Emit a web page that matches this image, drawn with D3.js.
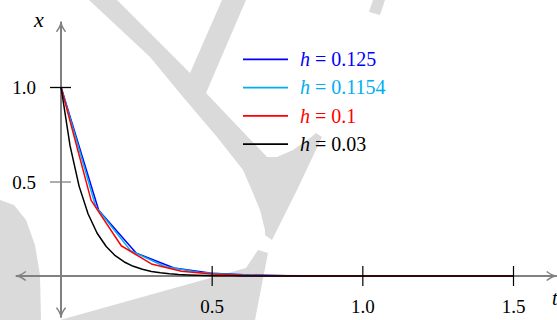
<!DOCTYPE html>
<html>
<head>
<meta charset="utf-8">
<script src="https://cdn.jsdelivr.net/npm/d3@7"></script>
<style>
  html, body { margin: 0; padding: 0; background: #fff; }
  svg { display: block; }
</style>
</head>
<body>
<script>
// Step sizes of the four numerical solutions of x' = -15x, x(0) = 1
const stepSizes = [0.125, 0.1154, 0.1, 0.03];
const seriesColors = ["#0000ff", "#00aeef", "#ff0000", "#000000"];

// Computed x values at t = k*h for each step size
const valuesH0125 = [1, 0.3478, 0.1210, 0.0421, 0.0146, 0.0051, 0.0018, 0.0006, 0.0002, 0.0001, 0, 0, 0];
const valuesH01154 = [1, 0.3662, 0.1341, 0.0491, 0.0180, 0.0066, 0.0024, 0.0009, 0.0003, 0.0001, 0, 0, 0, 0];
const valuesH01 = [1, 0.4, 0.16, 0.064, 0.0256, 0.0102, 0.0041, 0.0016, 0.0007, 0.0003, 0.0001, 0, 0, 0, 0, 0];
const valuesH003 = [1, 0.6897, 0.4756, 0.3280, 0.2262, 0.1560, 0.1076, 0.0742, 0.0512, 0.0353,
  0.0243, 0.0168, 0.0116, 0.0080, 0.0055, 0.0038, 0.0026, 0.0018, 0.0012, 0.0009,
  0.0006, 0.0004, 0.0003, 0.0002, 0.0001, 0, 0, 0, 0, 0,
  0, 0, 0, 0, 0, 0, 0, 0, 0, 0,
  0, 0, 0, 0, 0, 0, 0, 0, 0, 0, 0];

const xTickValues = [0.5, 1.0, 1.5];
const yTickValues = [0.5, 1.0];
const xAxisExtent = [-0.15, 1.645];
const yAxisExtent = [-0.22, 1.345];

const W = 557, H = 320;
const serif = '"Liberation Serif"';
const axisGrey = "#808080";

const svg = d3.select("body").append("svg")
  .attr("width", W).attr("height", H)
  .attr("viewBox", `0 0 ${W} ${H}`);

// Light grey decorative backdrop shapes
const backdrop = [
  [[89,0],[117,0],[190,73],[222,0],[246,0],[206,93],[267,157],[277,157],[293,150],[310,138],[316,133],[322,137],
   [297,190],[272,240],[265,235],[265,230],[260,210],[253,193],[243,170],[217,137],[183,97],[150,57]],
  [[258,250],[268,253],[255,320],[60,320],[246,268]],
  [[0,200],[14,205],[26,220],[35,245],[40,275],[41,320],[0,320]],
  [[373,0],[385,0],[380,15],[369,12]]
];
svg.append("g").selectAll("polygon").data(backdrop).join("polygon")
  .attr("points", d => d.map(p => p.join(",")).join(" "))
  .attr("fill", "#dadada");

const x = d3.scaleLinear().domain([0, 1.5]).range([61, 513]);
const y = d3.scaleLinear().domain([0, 1]).range([276, 87]);

// Axis lines with arrow heads at both ends
function arrowHead(tipX, tipY, dirX, dirY, len, half) {
  const bx = tipX - dirX * len, by = tipY - dirY * len;
  const px = -dirY * half, py = dirX * half;
  return `M${bx + px},${by + py}Q${tipX - dirX * len * 0.4},${tipY - dirY * len * 0.4} ${tipX},${tipY}` +
         `Q${tipX - dirX * len * 0.4},${tipY - dirY * len * 0.4} ${bx - px},${by - py}`;
}
const axes = svg.append("g").attr("stroke", axisGrey).attr("fill", "none");
const x0 = x(xAxisExtent[0]), x1 = x(xAxisExtent[1]);
const yTop = y(yAxisExtent[1]), yBot = y(yAxisExtent[0]);
axes.append("line").attr("x1", x0).attr("x2", x1).attr("y1", y(0)).attr("y2", y(0)).attr("stroke-width", 2);
axes.append("line").attr("x1", x(0)).attr("x2", x(0)).attr("y1", yTop).attr("y2", yBot).attr("stroke-width", 2);
axes.append("path").attr("d", arrowHead(x1, y(0), 1, 0, 10, 4.5)).attr("stroke-width", 1.5);
axes.append("path").attr("d", arrowHead(x0, y(0), -1, 0, 10, 4.5)).attr("stroke-width", 1.5);
axes.append("path").attr("d", arrowHead(x(0), yTop, 0, -1, 10, 4.5)).attr("stroke-width", 1.5);
axes.append("path").attr("d", arrowHead(x(0), yBot, 0, 1, 10, 4.5)).attr("stroke-width", 1.5);

// Solution curves
const series = stepSizes.map((h, i) => ({
  h,
  color: seriesColors[i],
  values: [valuesH0125, valuesH01154, valuesH01, valuesH003][i]
}));
const line = d3.line().x(d => x(d.t)).y(d => y(d.v));
svg.append("g").selectAll("path").data(series).join("path")
  .attr("d", s => line(s.values.map((v, k) => ({ t: k * s.h, v }))))
  .attr("fill", "none")
  .attr("stroke", s => s.color)
  .attr("stroke-width", 1.5)
  .attr("stroke-linejoin", "round");

// Ticks crossing the axes
const fmt = d3.format(".1f");
const gx = svg.append("g").attr("transform", `translate(0,${y(0)})`)
  .call(d3.axisBottom(x).tickValues(xTickValues).tickSize(10).tickFormat(fmt));
gx.select(".domain").remove();
gx.selectAll(".tick line").attr("y1", -10).attr("y2", 10).attr("stroke", "#000").attr("stroke-width", 1.2);
gx.selectAll(".tick text").attr("y", 37).attr("dy", null)
  .style("font-family", serif).style("font-size", "19px").attr("fill", "#000");

const gy = svg.append("g").attr("transform", `translate(${x(0)},0)`)
  .call(d3.axisLeft(y).tickValues(yTickValues).tickSize(10).tickFormat(fmt));
gy.select(".domain").remove();
gy.selectAll(".tick line").attr("x1", 10).attr("x2", -11)
  .attr("stroke", d => d === 1 ? "#000" : axisGrey).attr("stroke-width", 1.3);
gy.selectAll(".tick text").attr("x", -25).attr("dy", null).attr("y", 6.5)
  .style("font-family", serif).style("font-size", "19px").attr("fill", "#000");

// Axis names
svg.append("text").attr("x", 34).attr("y", 27).text("x")
  .style("font-family", serif).style("font-style", "italic").style("font-size", "22px");
svg.append("text").attr("x", 552).attr("y", 305).text("t")
  .style("font-family", serif).style("font-style", "italic").style("font-size", "20px");

// Legend
const legend = svg.append("g");
const rows = legend.selectAll("g").data(series).join("g")
  .attr("transform", (d, i) => `translate(243,${59.3 + i * 28.3})`);
rows.append("line").attr("x1", 0).attr("x2", 45).attr("y1", 0).attr("y2", 0)
  .attr("stroke", d => d.color).attr("stroke-width", 1.7);
const lbl = rows.append("text").attr("x", 57).attr("y", 6.7)
  .style("font-family", serif).style("font-size", "20px").attr("fill", d => d.color);
lbl.append("tspan").style("font-style", "italic").text("h");
lbl.append("tspan").text(d => " = " + d.h);
</script>
</body>
</html>
